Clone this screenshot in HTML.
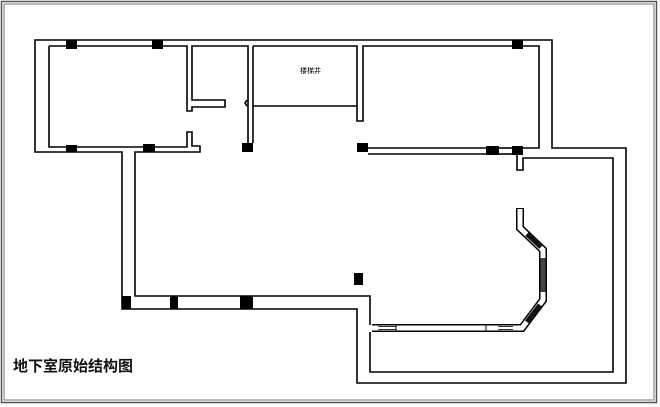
<!DOCTYPE html>
<html><head><meta charset="utf-8"><style>
html,body{margin:0;padding:0;background:#fff}
svg{display:block}
</style></head><body>
<svg width="660" height="407" viewBox="0 0 660 407" xmlns="http://www.w3.org/2000/svg">
<rect x="0" y="0" width="660" height="407" fill="#fff"/>
<rect x="1.5" y="1.5" width="655" height="401" fill="none" stroke="#555" stroke-width="1.5"/>
<rect x="4" y="4" width="650" height="396" fill="none" stroke="#777" stroke-width="1"/>
<g fill="none" stroke="#000" stroke-width="1.6">
<!-- outer boundary -->
<path d="M35,40 H552 V148 H626 V383 H357 V309 H122 V152 H35 Z"/>
<!-- inner top-left room -->
<path d="M49,46 H187 V111 H192 V107 H225 V100 H192 V46 H248 V143"/>
<path d="M49,46 V147 H187 V132 H192 V146 H200 V152 H135 V296 H370 V325"/>
<!-- middle wall -->
<path d="M253,46 V143"/>
<path d="M247,100 L245,103 L247,106"/>
<!-- stair shaft -->
<path d="M253,46 H357 V121 H363 V46 H539 V148 H523"/>
<path d="M253,106 H357"/>
<!-- right room bottom wall -->
<path d="M368,148 H486"/>
<path d="M368,154 H486"/>
<path d="M499,148 H512"/>
<path d="M499,154 H512"/>
<path d="M517,155 V170 H523 V158 H613 V372 H370 V332"/>
<!-- bottom-left wall inner line already; between columns -->
</g>
<!-- bay window -->
<g fill="none" stroke-linejoin="miter">
<path d="M520,208 V228 L543,250 V300 L522,328 H372" stroke="#000" stroke-width="8"/>
<path d="M520,209 V228 L543,250 V300 L522,328 H372" stroke="#fff" stroke-width="5"/>
<path d="M527,234 L541,247" stroke="#111" stroke-width="5"/>
<path d="M543,258 V292" stroke="#444" stroke-width="5"/>
<path d="M540,305 L527,322" stroke="#111" stroke-width="5"/>
<path d="M378,326.5 H396 M378,329.5 H396" stroke="#333" stroke-width="1"/>
<path d="M498,326.5 H513 M498,329.5 H513" stroke="#333" stroke-width="1"/>
<path d="M396,324 V332 M486,324 V332" stroke="#000" stroke-width="1"/>
</g>
<!-- columns -->
<g fill="#000">
<rect x="66" y="40" width="11" height="9"/>
<rect x="152" y="40" width="11" height="9"/>
<rect x="512" y="40" width="11" height="9"/>
<rect x="66" y="145" width="11" height="7"/>
<rect x="143" y="144" width="12" height="8"/>
<rect x="242" y="143" width="11" height="9"/>
<rect x="357" y="143" width="11" height="9"/>
<rect x="486" y="146" width="13" height="9"/>
<rect x="512" y="146" width="11" height="9"/>
<rect x="354" y="273" width="9" height="12"/>
<rect x="122" y="296" width="9" height="13"/>
<rect x="170" y="296" width="8" height="13"/>
<rect x="240" y="296" width="13" height="13"/>
</g>
<text x="300" y="73" font-family="Liberation Sans, Noto Sans CJK SC, sans-serif" font-size="7" fill="#000">楼梯井</text>
<text x="13" y="371" font-family="Liberation Sans, Noto Sans CJK SC, sans-serif" font-size="15" font-weight="bold" fill="#111">地下室原始结构图</text>
</svg>
</body></html>
